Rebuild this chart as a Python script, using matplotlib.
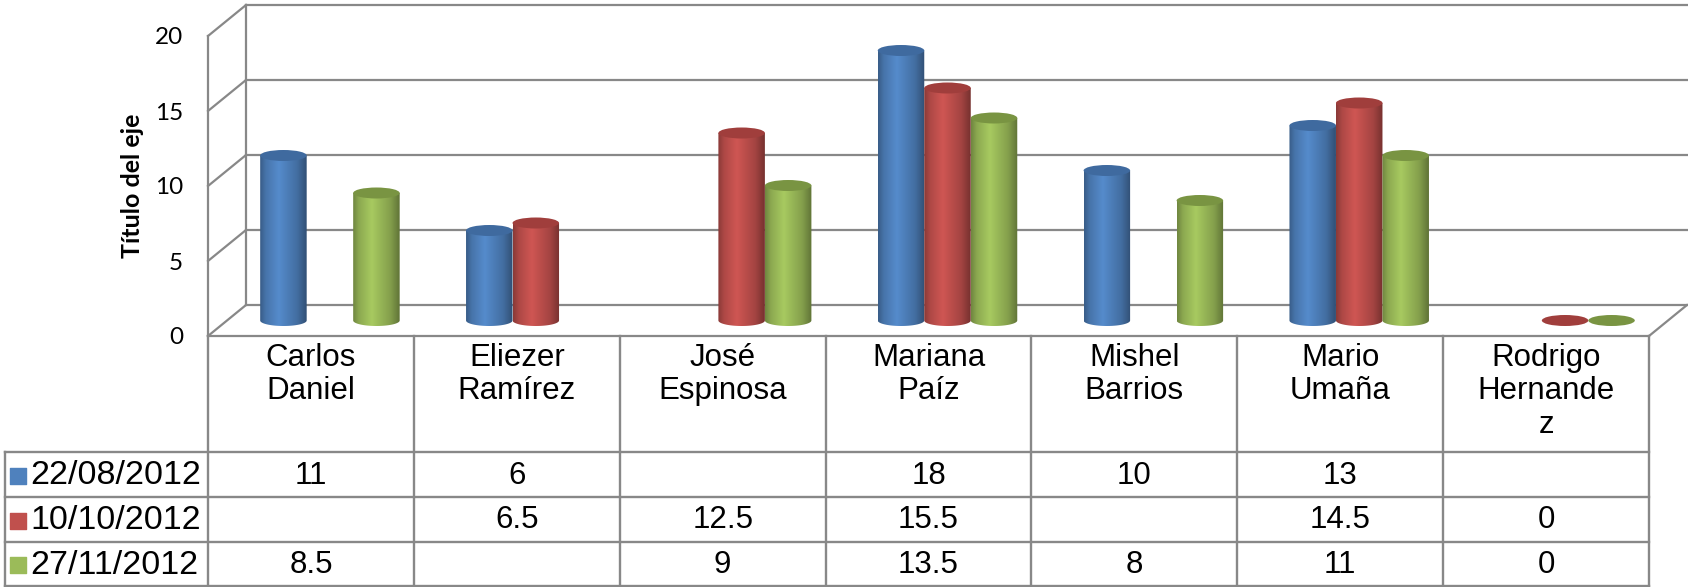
import numpy as np
import matplotlib
matplotlib.use('Agg')
import matplotlib.pyplot as plt
from matplotlib.patches import Ellipse, PathPatch
from matplotlib.path import Path
from matplotlib.colors import to_rgb

# datos
nombres = ['Carlos\nDaniel', 'Eliezer\nRamírez', 'José\nEspinosa', 'Mariana\nPaíz',
           'Mishel\nBarrios', 'Mario\nUmaña', 'Rodrigo\nHernande\nz']
fechas = ['22/08/2012', '10/10/2012', '27/11/2012']
serie_22_08 = [11, 6, None, 18, 10, 13, None]
serie_10_10 = [None, 6.5, 12.5, 15.5, None, 14.5, 0]
serie_27_11 = [8.5, None, 9, 13.5, 8, 11, 0]
series = [serie_22_08, serie_10_10, serie_27_11]
yticks = [0, 5, 10, 15, 20]

colores = ['#4F81BD', '#C0504D', '#9BBB59']
colores_tapa = ['#3f6a9f', '#a03e3c', '#799442']
gris = '#888888'

W, H = 1688, 587
fig = plt.figure(figsize=(W / 100, H / 100), dpi=100)
n = len(nombres)

# ejes principales (pared frontal del grafico 3d)
ax = fig.add_axes([208 / W, (H - 336) / H, (1649 - 208) / W, 300 / H])
ax.set_xlim(0, n)
ax.set_ylim(0, 20)
for s in ax.spines.values():
    s.set_visible(False)
ax.set_xticks([])
ax.set_yticks(yticks)
ax.tick_params(axis='y', length=0, pad=18, labelsize=17.5)
for lab in ax.get_yticklabels():
    lab.set_fontfamily('Lato')
ax.set_ylabel('Título del eje', fontsize=18, fontweight='bold', family='Lato', va='center')
ax.yaxis.set_label_coords(-0.0527, 0.5)

# profundidad en unidades de datos
dx = 38 / (1441 / n)
dy = 31 / 15.0

kw = dict(color=gris, lw=1.6, clip_on=False, zorder=1)
for v in yticks:
    ax.plot([0, dx], [v, v + dy], **kw)
    ax.plot([dx, n + dx], [v + dy, v + dy], **kw)
ax.plot([0, 0], [0, 20], **kw)
ax.plot([dx, dx], [dy, 20 + dy], **kw)
ax.plot([0, n], [0, 0], **kw)
ax.plot([n, n + dx], [0, dy], **kw)

# cilindros
bw = 46.5 / (1441 / n)
eh = 11 / 15.0
t = np.linspace(0, 1, 64)
brillo = np.interp(t, [0, 0.12, 0.4, 0.8, 1], [0.72, 0.9, 1.08, 0.85, 0.62])
base = dy / 2
for j, serie in enumerate(series):
    rgb = np.array(to_rgb(colores[j]))
    grad = np.clip(brillo[:, None] * rgb[None, :], 0, 1)[None, :, :]
    for i, v in enumerate(serie):
        if v is None:
            continue
        cx = i + 0.5 + dx / 2 + (j - 1) * bw
        x0, x1 = cx - bw / 2, cx + bw / 2
        top = base + v
        if v > 0:
            ang = np.linspace(np.pi, 2 * np.pi, 40)
            arco = np.column_stack([cx + bw / 2 * np.cos(ang), base + eh / 2 * np.sin(ang)])
            verts = np.vstack([[x0, top], arco, [x1, top], [x0, top]])
            clip = PathPatch(Path(verts), transform=ax.transData, visible=False)
            ax.add_patch(clip)
            im = ax.imshow(grad, extent=(x0, x1, base - eh, top), aspect='auto',
                           interpolation='bicubic', zorder=3 + j)
            im.set_clip_path(clip)
        ax.add_patch(Ellipse((cx, top), bw, eh, facecolor=colores_tapa[j],
                             edgecolor='none', zorder=3.5 + j))
ax.set_xlim(0, n)
ax.set_ylim(0, 20)

# tabla de datos
tax = fig.add_axes([5 / W, 0, (1649 - 5) / W, 251 / H])
x_izq = -203 / (1441 / n)
tax.set_xlim(x_izq, n)
tax.set_ylim(251, 0)
tax.axis('off')
filas = [116, 161, 206, 250]
tk = dict(color=gris, lw=1.7, clip_on=False)
for i in range(n + 1):
    tax.plot([i, i], [0, filas[-1]], **tk)
tax.plot([x_izq, x_izq], [filas[0], filas[-1]], **tk)
for y in filas:
    tax.plot([x_izq, n], [y, y], **tk)

fuente = dict(family='Liberation Sans', fontsize=22.5)
for i, nom in enumerate(nombres):
    tax.text(i + 0.5, 7, nom, ha='center', va='top', multialignment='center',
             linespacing=1.15, **fuente)
for j, serie in enumerate(series):
    yc = (filas[j] + filas[j + 1]) / 2 + 1
    tax.scatter([x_izq + 0.062], [yc], marker='s', s=125, color=colores[j], clip_on=False)
    tax.text(x_izq + 0.125, yc, fechas[j], ha='left', va='center',
             family='Liberation Sans', fontsize=24.5)
    for i, v in enumerate(serie):
        if v is None:
            continue
        tax.text(i + 0.5, yc, f'{v:g}', ha='center', va='center', **fuente)

fig.savefig('out.png', dpi=100)
